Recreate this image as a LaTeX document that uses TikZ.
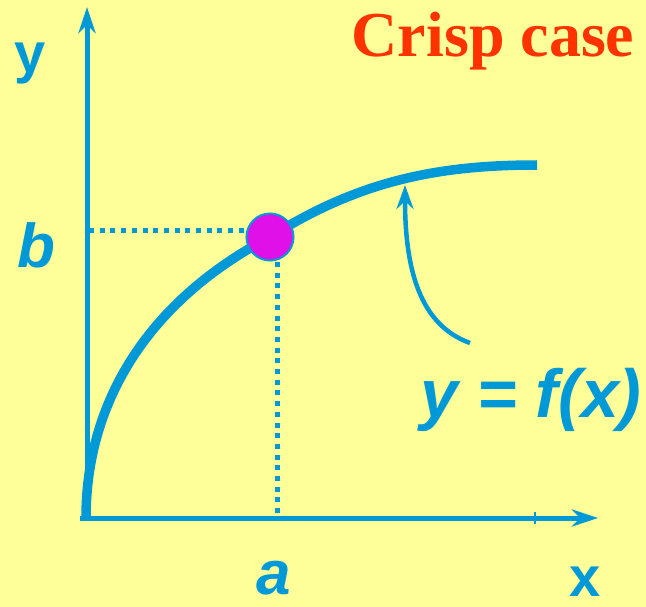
\documentclass[tikz,border=0pt]{standalone}
\usepackage{fontspec}
\setmainfont{Liberation Serif}
\setsansfont{Liberation Sans}
\usetikzlibrary{arrows.meta}
\definecolor{bg}{HTML}{FFFF99}
\definecolor{ax}{HTML}{0099D8}
\definecolor{dotc}{HTML}{E010E8}
\definecolor{redc}{HTML}{FF3300}
\tikzset{
  axisline/.style={draw=ax,line width=5pt,-{Stealth[length=26pt,width=17pt,inset=8pt]}},
  curveline/.style={draw=ax,line width=9.5pt},
  guide/.style={draw=ax,line width=5pt,dash pattern=on 5pt off 5.7pt},
  lbl/.style={text=ax,font=\sffamily\bfseries\fontsize{56}{56}\selectfont,inner sep=0pt},
  ilbl/.style={text=ax,font=\sffamily\bfseries\itshape\fontsize{62}{62}\selectfont,inner sep=0pt},
}
\begin{document}
\begin{tikzpicture}[x=1pt,y=-1pt]
\fill[bg] (0,0) rectangle (646,607);
\useasboundingbox (0,0) rectangle (646,607);
\coordinate (o) at (87,518);
\coordinate (ytop) at (87,7);
\coordinate (xend) at (598,518);
\coordinate (xstart) at (80,518);
\draw[axisline] (87,520) -- (ytop);
\draw[axisline] (xstart) -- (xend);
\draw[ax,line width=1.5pt] (535,512) -- (535,524);
% dotted guides
\coordinate (hb) at (89,231);
\coordinate (hp) at (250,231);
\coordinate (vp) at (277,262);
\coordinate (va) at (277,518);
\draw[guide] (hb) -- (hp);
\draw[guide] (vp) -- (va);
% curve
\coordinate (p) at (270,237);
\draw[curveline] (86,518) .. controls (86,400) and (150,300) .. (p) .. controls (360,180) and (440,165) .. (537,165);
\node[circle,fill=dotc,draw=ax,line width=2pt,minimum size=47pt,inner sep=0pt] (pt) at (p) {};
% annotation arrow
\coordinate (ann) at (470,343);
\coordinate (tipc) at (405,185);
\draw[draw=ax,line width=4.5pt,-{Stealth[length=24pt,width=17pt,inset=8pt]}] (ann) .. controls (420,325) and (405,270) .. (tipc);
% labels
\node[lbl,anchor=base] (ylab) at (30,73) {y};
\node[lbl,anchor=base] (xlab) at (585,596) {x};
\node[ilbl,anchor=base] (blab) at (36,268) {b};
\node[ilbl,anchor=base] (alab) at (274,594) {a};
\node[text=ax,font=\sffamily\bfseries\itshape\fontsize{68}{68}\selectfont,inner sep=0pt,anchor=base] (flab) at (531,417) {y = f(x)};
\node[text=redc,font=\rmfamily\bfseries\fontsize{64}{64}\selectfont,inner sep=0pt,anchor=base] (title) at (493,57) {Crisp case};
\end{tikzpicture}
\end{document}
